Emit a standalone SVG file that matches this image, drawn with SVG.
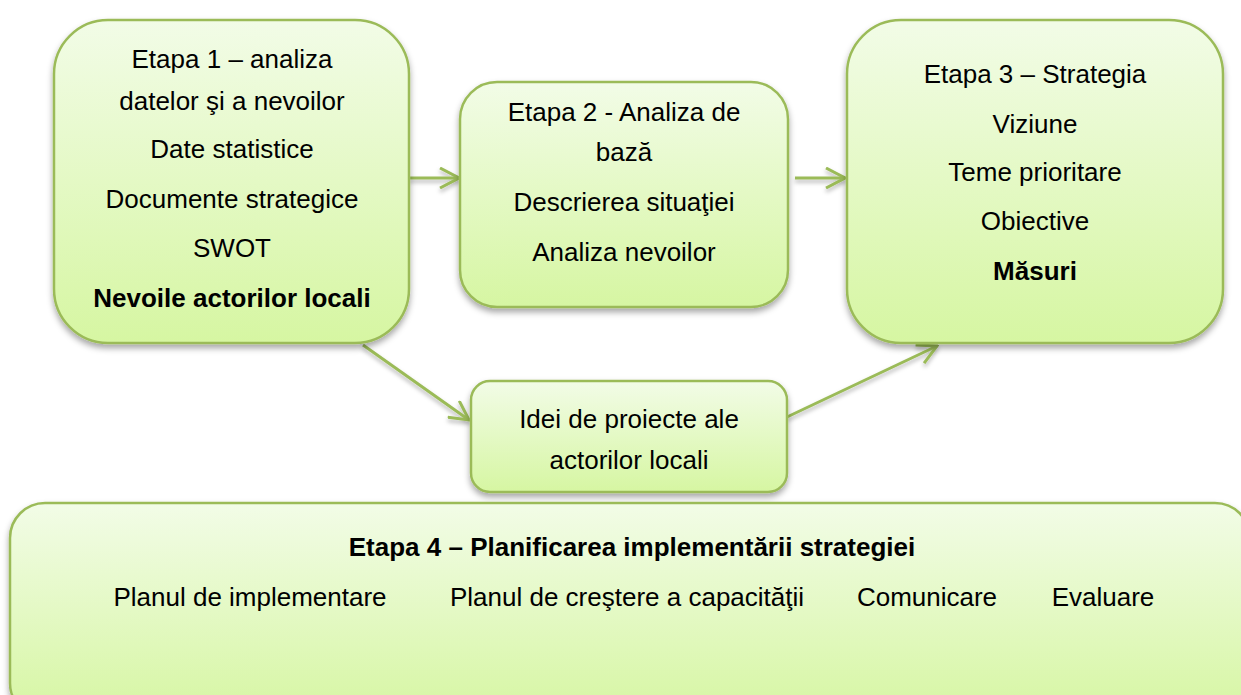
<svg xmlns="http://www.w3.org/2000/svg" width="1241" height="695" viewBox="0 0 1241 695">
<style>
  .box { fill: url(#g); stroke: #9bbb59; stroke-width: 2.5; filter: url(#sh); }
  .t { font-family: "Liberation Sans", Arial, sans-serif; font-size: 26px; fill: #000; text-anchor: middle; }
  .b { font-weight: bold; }
  .c { stroke: #9bbb59; stroke-width: 3; fill: none; marker-end: url(#ah); }
</style>
<defs>
  <linearGradient id="g" x1="0" y1="0" x2="0" y2="1">
    <stop offset="0" stop-color="#f2fce7"/>
    <stop offset="1" stop-color="#d6f6a2"/>
  </linearGradient>
  <filter id="sh" x="-10%" y="-10%" width="120%" height="130%">
    <feDropShadow dx="0" dy="4" stdDeviation="3" flood-color="#000" flood-opacity="0.35"/>
  </filter>
  <filter id="shl" x="-10%" y="-30%" width="120%" height="160%">
    <feDropShadow dx="0" dy="3" stdDeviation="2" flood-color="#000" flood-opacity="0.3"/>
  </filter>
  <marker id="ah" viewBox="0 0 22 22" refX="20" refY="11" markerWidth="22" markerHeight="22" markerUnits="userSpaceOnUse" orient="auto">
    <path d="M1,1 L20,11 L1,21" fill="none" stroke="#9bbb59" stroke-width="3"/>
  </marker>
</defs>

<g id="connectors" filter="url(#shl)">
  <line class="c" x1="409" y1="178" x2="459" y2="178"/>
  <line class="c" x1="795" y1="178" x2="845" y2="178"/>
  <line class="c" x1="363" y1="345" x2="469" y2="420"/>
  <line class="c" x1="787" y1="417" x2="937" y2="346"/>
</g>

<g id="etapa1">
  <rect class="box" x="54" y="20" width="355" height="323" rx="54" ry="54"/>
  <text class="t" x="232" y="68">Etapa 1 – analiza</text>
  <text class="t" x="232" y="110">datelor şi a nevoilor</text>
  <text class="t" x="232" y="158">Date statistice</text>
  <text class="t" x="232" y="208">Documente strategice</text>
  <text class="t" x="232" y="257">SWOT</text>
  <text class="t b" x="232" y="307">Nevoile actorilor locali</text>
</g>

<g id="etapa2">
  <rect class="box" x="460" y="82" width="328" height="225" rx="37" ry="37"/>
  <text class="t" x="624" y="121">Etapa 2 - Analiza de</text>
  <text class="t" x="624" y="161">bază</text>
  <text class="t" x="624" y="211">Descrierea situaţiei</text>
  <text class="t" x="624" y="261">Analiza nevoilor</text>
</g>

<g id="etapa3">
  <rect class="box" x="847" y="20" width="376" height="323" rx="54" ry="54"/>
  <text class="t" x="1035" y="83">Etapa 3 – Strategia</text>
  <text class="t" x="1035" y="133">Viziune</text>
  <text class="t" x="1035" y="181">Teme prioritare</text>
  <text class="t" x="1035" y="230">Obiective</text>
  <text class="t b" x="1035" y="280">Măsuri</text>
</g>

<g id="idei">
  <rect class="box" x="471" y="381" width="316" height="111" rx="19" ry="19"/>
  <text class="t" x="629" y="428">Idei de proiecte ale</text>
  <text class="t" x="629" y="469">actorilor locali</text>
</g>

<g id="etapa4">
  <rect class="box" x="10" y="503" width="1240" height="215" rx="35" ry="35"/>
  <text class="t b" x="632" y="556">Etapa 4 – Planificarea implementării strategiei</text>
  <text class="t" x="250" y="606">Planul de implementare</text>
  <text class="t" x="627" y="606">Planul de creştere a capacităţii</text>
  <text class="t" x="927" y="606">Comunicare</text>
  <text class="t" x="1103" y="606">Evaluare</text>
</g>
</svg>
